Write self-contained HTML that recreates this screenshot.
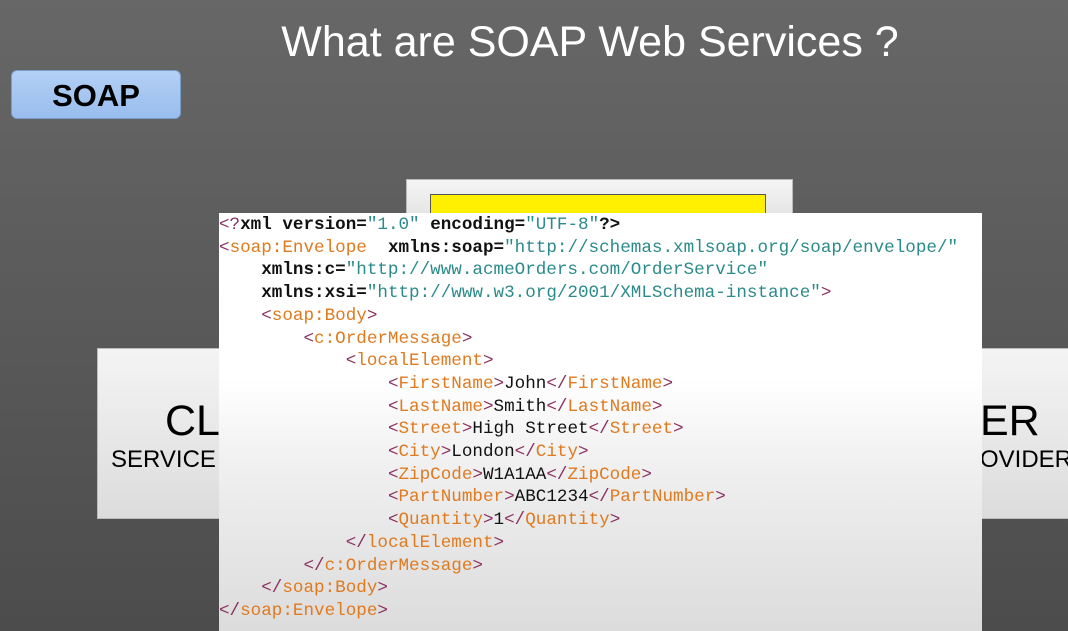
<!DOCTYPE html>
<html><head><meta charset="utf-8"><style>
body{margin:0;width:1068px;height:631px;overflow:hidden;background:linear-gradient(#676767,#4c4c4c);font-family:"Liberation Sans",sans-serif;position:relative}
.abs{position:absolute}
.title{left:0;width:1180px;text-align:center;top:18px;font-size:43px;color:#fff}
.soap{left:11px;top:70px;width:170px;height:49px;background:linear-gradient(#b3d0f5,#99bdee);border:1px solid #7a9cc8;border-radius:6px;box-sizing:border-box;font-weight:bold;font-size:31px;text-align:center;line-height:49px;color:#000}
.box{background:linear-gradient(#f4f4f4,#dcdcdc);border:1px solid #bbb;box-sizing:border-box}
.code{left:219px;top:213px;width:763px;height:418px;background:linear-gradient(#fff 40%,#f0f0f0 60%,#dcdcdc);}
pre{margin:0;font-family:"Liberation Mono",monospace;font-size:17.6px;line-height:22.7px;position:absolute;left:219px;top:214px;color:#111;letter-spacing:0}
.b{color:#8a3060}.t{color:#e07a1f}.a{color:#111;font-weight:bold}.v{color:#2b8a8a}
</style></head><body>
<div class="abs title">What are SOAP Web Services ?</div>
<div class="abs soap">SOAP</div>
<div class="abs box" style="left:406px;top:179px;width:387px;height:60px"></div>
<div class="abs" style="left:430px;top:194px;width:336px;height:30px;background:#ffef00;border:1px solid #555;box-sizing:border-box"></div>
<div class="abs box" style="left:97px;top:348px;width:140px;height:171px"></div>
<div class="abs" style="left:165px;top:397px;font-size:43px">CL</div>
<div class="abs" style="left:111px;top:446px;font-size:24px">SERVICE</div>
<div class="abs box" style="left:970px;top:348px;width:110px;height:171px"></div>
<div class="abs" style="left:980px;top:397px;font-size:43px">ER</div>
<div class="abs" style="left:980px;top:446px;font-size:24px">OVIDER</div>
<div class="abs code"></div>
<pre><span class="b">&lt;?</span><span class="a">xml version=</span><span class="v">"1.0"</span> <span class="a">encoding=</span><span class="v">"UTF-8"</span><span class="a">?&gt;</span>
<span class="b">&lt;</span><span class="t">soap:Envelope</span>  <span class="a">xmlns:soap=</span><span class="v">"http://schemas.xmlsoap.org/soap/envelope/"</span>
    <span class="a">xmlns:c=</span><span class="v">"http://www.acmeOrders.com/OrderService"</span>
    <span class="a">xmlns:xsi=</span><span class="v">"http://www.w3.org/2001/XMLSchema-instance"</span><span class="b">&gt;</span>
    <span class="b">&lt;</span><span class="t">soap:Body</span><span class="b">&gt;</span>
        <span class="b">&lt;</span><span class="t">c:OrderMessage</span><span class="b">&gt;</span>
            <span class="b">&lt;</span><span class="t">localElement</span><span class="b">&gt;</span>
                <span class="b">&lt;</span><span class="t">FirstName</span><span class="b">&gt;</span>John<span class="b">&lt;/</span><span class="t">FirstName</span><span class="b">&gt;</span>
                <span class="b">&lt;</span><span class="t">LastName</span><span class="b">&gt;</span>Smith<span class="b">&lt;/</span><span class="t">LastName</span><span class="b">&gt;</span>
                <span class="b">&lt;</span><span class="t">Street</span><span class="b">&gt;</span>High Street<span class="b">&lt;/</span><span class="t">Street</span><span class="b">&gt;</span>
                <span class="b">&lt;</span><span class="t">City</span><span class="b">&gt;</span>London<span class="b">&lt;/</span><span class="t">City</span><span class="b">&gt;</span>
                <span class="b">&lt;</span><span class="t">ZipCode</span><span class="b">&gt;</span>W1A1AA<span class="b">&lt;/</span><span class="t">ZipCode</span><span class="b">&gt;</span>
                <span class="b">&lt;</span><span class="t">PartNumber</span><span class="b">&gt;</span>ABC1234<span class="b">&lt;/</span><span class="t">PartNumber</span><span class="b">&gt;</span>
                <span class="b">&lt;</span><span class="t">Quantity</span><span class="b">&gt;</span>1<span class="b">&lt;/</span><span class="t">Quantity</span><span class="b">&gt;</span>
            <span class="b">&lt;/</span><span class="t">localElement</span><span class="b">&gt;</span>
        <span class="b">&lt;/</span><span class="t">c:OrderMessage</span><span class="b">&gt;</span>
    <span class="b">&lt;/</span><span class="t">soap:Body</span><span class="b">&gt;</span>
<span class="b">&lt;/</span><span class="t">soap:Envelope</span><span class="b">&gt;</span></pre>
</body></html>
